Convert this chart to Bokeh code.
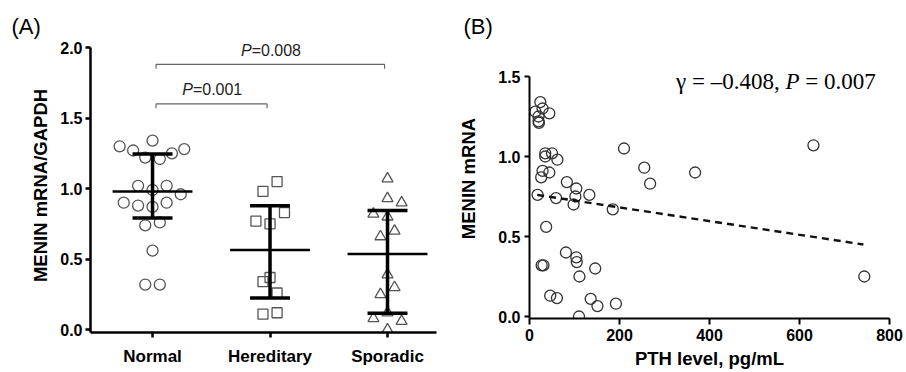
from bokeh.plotting import figure
from bokeh.layouts import row
from bokeh.models import FixedTicker, Label, Range1d, PrintfTickFormatter
from bokeh.embed import file_html
from bokeh.resources import INLINE

# ---------------- Panel A data ----------------
groups = ["Normal", "Hereditary", "Sporadic"]
normal_vals = [1.30, 1.27, 1.34, 1.22, 1.21, 1.25, 1.28, 1.02, 0.99, 1.02, 0.96,
               0.90, 0.88, 0.87, 0.90, 0.74, 0.76, 0.56, 0.32, 0.32]
hereditary_vals = [0.98, 1.05, 0.83, 0.77, 0.75, 0.37, 0.34, 0.26, 0.11, 0.12]
sporadic_vals = [1.07, 0.93, 0.90, 0.82, 0.80, 0.66, 0.70, 0.39, 0.30, 0.25, 0.12,
                 0.08, 0.06, 0.00]
group_mean = [0.98, 0.565, 0.537]
group_upper = [1.245, 0.878, 0.844]
group_lower = [0.792, 0.225, 0.116]
sig_pairs = [(1, 2), (1, 3)]
sig_heights = [1.60, 1.88]
sig_pvalues = ["0.001", "0.008"]
y_ticks_a = [0.0, 0.5, 1.0, 1.5, 2.0]

# horizontal spread of the dots (layout only, in category widths)
normal_spread = [-0.28, -0.165, 0.0, -0.062, 0.062, 0.165, 0.27, -0.123, 0.0, 0.12, 0.24,
                 -0.245, -0.123, 0.0, 0.12, -0.062, 0.062, 0.0, -0.062, 0.062]
hereditary_spread = [-0.06, 0.06, 0.123, -0.12, 0.0, 0.0, -0.06, 0.06, -0.06, 0.06]
sporadic_spread = [0.0, 0.0, 0.12, -0.12, 0.0, -0.06, 0.06, 0.0, 0.06, -0.06, 0.0,
                   -0.12, 0.12, 0.0]

# ---------------- Panel B data ----------------
pth = [24, 13, 29, 44, 20, 20, 21, 35, 35, 50, 62, 29, 44, 26, 18, 59, 83, 104, 102, 98,
       133, 185, 37, 27, 31, 81, 104, 105, 146, 111, 46, 61, 136, 151, 192, 110,
       210, 255, 268, 368, 631, 744]
menin = [1.34, 1.28, 1.30, 1.27, 1.25, 1.22, 1.21, 1.02, 1.00, 1.02, 0.98, 0.91, 0.90,
         0.87, 0.76, 0.74, 0.84, 0.80, 0.75, 0.70, 0.76, 0.67, 0.56, 0.32, 0.32, 0.40,
         0.37, 0.34, 0.30, 0.25, 0.13, 0.115, 0.11, 0.065, 0.08, 0.0,
         1.05, 0.93, 0.83, 0.90, 1.07, 0.25]
fit_x = [17, 742]
fit_y = [0.76, 0.45]
x_ticks_b = [0, 200, 400, 600, 800]
y_ticks_b = [0.0, 0.5, 1.0, 1.5]

FONT = "Liberation Sans"
SERIF = "Liberation Serif"


def style_axis(ax, lw, label_size, tick_size):
    ax.axis_line_color = "black"
    ax.axis_line_width = lw
    ax.major_tick_line_color = "black"
    ax.major_tick_line_width = lw
    ax.major_tick_in = 0
    ax.major_tick_out = 5
    ax.minor_tick_line_color = None
    ax.major_label_text_font = FONT
    ax.major_label_text_font_style = "bold"
    ax.major_label_text_font_size = tick_size
    ax.major_label_text_color = "black"
    ax.axis_label_text_font = FONT
    ax.axis_label_text_font_style = "bold"
    ax.axis_label_text_font_size = label_size
    ax.axis_label_text_color = "black"


def style_title(p, text, offset):
    p.title.text = text
    p.title.align = "left"
    p.title.offset = offset
    p.title.standoff = 0
    p.title.text_font = FONT
    p.title.text_font_style = "normal"
    p.title.text_font_size = "22px"
    p.title.text_color = "black"


# ================= Panel A =================
pA = figure(width=450, height=372, x_range=Range1d(0.472, 3.417), y_range=Range1d(-0.02, 2.064),
            output_backend="svg", toolbar_location=None,
            min_border_left=90, min_border_right=14, min_border_top=38, min_border_bottom=40)
pA.frame_align = False
pA.grid.visible = False
pA.outline_line_color = None
style_title(pA, "(A)", -79)

style_axis(pA.yaxis[0], 2.5, "18.5px", "16px")
pA.yaxis[0].ticker = FixedTicker(ticks=y_ticks_a)
pA.yaxis[0].bounds = (-0.02, 2.0)
pA.yaxis[0].formatter = PrintfTickFormatter(format="%.1f")
pA.yaxis[0].axis_label = "MENIN mRNA/GAPDH"
pA.yaxis[0].major_label_standoff = 3
pA.yaxis[0].axis_label_standoff = 6

style_axis(pA.xaxis[0], 2.5, "18.5px", "17px")
pA.xaxis[0].ticker = FixedTicker(ticks=[1, 2, 3])
pA.xaxis[0].major_label_overrides = {i + 1: g for i, g in enumerate(groups)}
pA.xaxis[0].major_label_standoff = 9

grey = "#555555"
sets = [(normal_vals, normal_spread, "circle", 11),
        (hereditary_vals, hereditary_spread, "square", 10),
        (sporadic_vals, sporadic_spread, "triangle", 11)]
for gi, (vals, spread, marker, size) in enumerate(sets):
    xs = [gi + 1 + s for s in spread]
    pA.scatter(xs, vals, marker=marker, size=size, fill_color="white", fill_alpha=0.0,
               line_color=grey, line_width=1.3)

centers = [1, 2, 3]
pA.segment(x0=[c - 0.34 for c in centers], y0=group_mean, x1=[c + 0.34 for c in centers],
           y1=group_mean, line_color="black", line_width=2.5)
pA.segment(x0=centers, y0=group_lower, x1=centers, y1=group_upper,
           line_color="black", line_width=3.5)
pA.segment(x0=[c - 0.17 for c in centers], y0=group_upper, x1=[c + 0.17 for c in centers],
           y1=group_upper, line_color="black", line_width=3.5)
pA.segment(x0=[c - 0.17 for c in centers], y0=group_lower, x1=[c + 0.17 for c in centers],
           y1=group_lower, line_color="black", line_width=3.5)

for (a, b), h, pv in zip(sig_pairs, sig_heights, sig_pvalues):
    xl, xr = a + 0.03, b - 0.025
    pA.line([xl, xl, xr, xr], [h - 0.03, h, h, h - 0.03], line_color="#666666", line_width=1.2)
    xm = (xl + xr) / 2
    pA.add_layout(Label(x=xm - 0.25, y=h + 0.10, text="P", text_font=FONT,
                        text_font_style="italic", text_font_size="16px",
                        text_baseline="middle", text_align="left", text_color="#222222"))
    pA.add_layout(Label(x=xm - 0.159, y=h + 0.10, text="=" + pv, text_font=FONT,
                        text_font_size="16px", text_baseline="middle", text_align="left",
                        text_color="#222222"))

# ================= Panel B =================
pB = figure(width=456, height=372, x_range=Range1d(0, 800), y_range=Range1d(-0.0125, 1.7375),
            output_backend="svg", toolbar_location=None,
            min_border_left=79, min_border_right=17, min_border_top=38, min_border_bottom=54)
pB.frame_align = False
pB.grid.visible = False
pB.outline_line_color = None
style_title(pB, "(B)", -66)

style_axis(pB.yaxis[0], 2.0, "18.5px", "16px")
pB.yaxis[0].ticker = FixedTicker(ticks=y_ticks_b)
pB.yaxis[0].bounds = (-0.0125, 1.5)
pB.yaxis[0].formatter = PrintfTickFormatter(format="%.1f")
pB.yaxis[0].axis_label = "MENIN mRNA"
pB.yaxis[0].major_label_standoff = 4
pB.yaxis[0].axis_label_standoff = 16

style_axis(pB.xaxis[0], 2.0, "18.5px", "16px")
pB.xaxis[0].ticker = FixedTicker(ticks=x_ticks_b)
pB.xaxis[0].axis_label = "PTH level, pg/mL"
pB.xaxis[0].major_tick_out = 6
pB.xaxis[0].major_label_standoff = 4
pB.xaxis[0].axis_label_standoff = 4

pB.scatter(pth, menin, marker="circle", size=11, fill_alpha=0.0, line_color="#333333",
           line_width=1.3)
pB.line(fit_x, fit_y, line_color="#111111", line_width=2.4, line_dash="7 5")

ann_y = 1.469
pB.add_layout(Label(x=556, y=ann_y, text="γ = –0.408,", text_font=SERIF, text_font_size="23px",
                    text_baseline="middle", text_align="right", text_color="black"))
pB.add_layout(Label(x=569, y=ann_y, text="P", text_font=SERIF, text_font_style="italic",
                    text_font_size="23px", text_baseline="middle", text_align="left",
                    text_color="black"))
pB.add_layout(Label(x=613, y=ann_y, text="= 0.007", text_font=SERIF, text_font_size="23px",
                    text_baseline="middle", text_align="left", text_color="black"))

layout = row(pA, pB)
open("out.html", "w").write(file_html(layout, INLINE))
